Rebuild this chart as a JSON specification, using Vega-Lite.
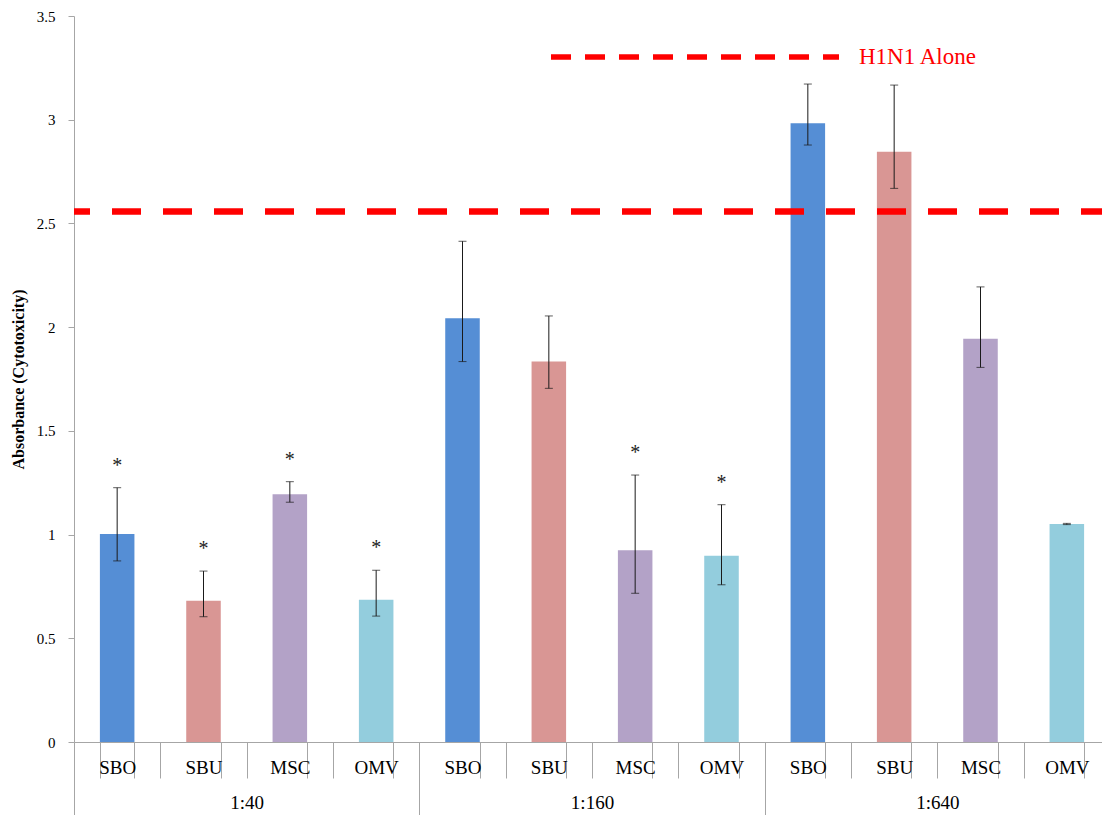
{
  "$schema": "https://vega.github.io/schema/vega-lite/v6.json",
  "width": 1036,
  "height": 726,
  "autosize": "none",
  "padding": {"left": 74, "top": 16, "right": -8, "bottom": 73},
  "background": "white",
  "config": {
    "view": {"stroke": null},
    "font": "Liberation Serif",
    "axis": {"labelFont": "Liberation Serif", "titleFont": "Liberation Serif", "labelColor": "black", "titleColor": "black"},
    "legend": {"labelFont": "Liberation Serif"},
    "text": {"font": "Liberation Serif"}
  },
  "datasets": {
    "bars": [
      {"key": "1:40|SBO", "dilution": "1:40", "sample": "SBO", "v": 1.003, "lo": 0.873, "hi": 1.226, "star": "*"},
      {"key": "1:40|SBU", "dilution": "1:40", "sample": "SBU", "v": 0.681, "lo": 0.604, "hi": 0.824, "star": "*"},
      {"key": "1:40|MSC", "dilution": "1:40", "sample": "MSC", "v": 1.194, "lo": 1.156, "hi": 1.255, "star": "*"},
      {"key": "1:40|OMV", "dilution": "1:40", "sample": "OMV", "v": 0.686, "lo": 0.607, "hi": 0.828, "star": "*"},
      {"key": "1:160|SBO", "dilution": "1:160", "sample": "SBO", "v": 2.043, "lo": 1.834, "hi": 2.414, "star": ""},
      {"key": "1:160|SBU", "dilution": "1:160", "sample": "SBU", "v": 1.834, "lo": 1.705, "hi": 2.054, "star": ""},
      {"key": "1:160|MSC", "dilution": "1:160", "sample": "MSC", "v": 0.924, "lo": 0.717, "hi": 1.287, "star": "*"},
      {"key": "1:160|OMV", "dilution": "1:160", "sample": "OMV", "v": 0.898, "lo": 0.758, "hi": 1.144, "star": "*"},
      {"key": "1:640|SBO", "dilution": "1:640", "sample": "SBO", "v": 2.983, "lo": 2.878, "hi": 3.172, "star": ""},
      {"key": "1:640|SBU", "dilution": "1:640", "sample": "SBU", "v": 2.846, "lo": 2.669, "hi": 3.167, "star": ""},
      {"key": "1:640|MSC", "dilution": "1:640", "sample": "MSC", "v": 1.944, "lo": 1.806, "hi": 2.194, "star": ""},
      {"key": "1:640|OMV", "dilution": "1:640", "sample": "OMV", "v": 1.051, "lo": 1.048, "hi": 1.054, "star": ""}
    ],
    "ref": [{"y": 2.557, "series": "H1N1 Alone"}],
    "groups": [{"dilution": "1:40"}, {"dilution": "1:160"}, {"dilution": "1:640"}]
  },
  "layer": [
    {
      "data": {"name": "bars"},
      "encoding": {
        "x": {
          "field": "key", "type": "nominal", "sort": null,
          "scale": {"type": "band", "paddingInner": 0.6, "paddingOuter": 0.3},
          "axis": {
            "orient": "bottom", "title": null,
            "labelExpr": "split(datum.value, '|')[1]",
            "labelAngle": 0, "labelFontSize": 19, "labelPadding": -20,
            "ticks": true, "tickBand": "extent", "tickSize": 36, "tickColor": "#A6A6A6", "tickWidth": 1,
            "domainColor": "#A6A6A6"
          }
        }
      },
      "layer": [
        {
          "mark": {"type": "bar"},
          "encoding": {
            "y": {
              "field": "v", "type": "quantitative",
              "scale": {"domain": [0, 3.5], "nice": false},
              "axis": {
                "title": "Absorbance (Cytotoxicity)", "titleFontSize": 16, "titleFontWeight": "bold",
                "titlePadding": 10, "format": "~g",
                "values": [0, 0.5, 1, 1.5, 2, 2.5, 3, 3.5],
                "labelFontSize": 15, "labelPadding": 13, "grid": false,
                "tickSize": 6, "tickColor": "#A6A6A6", "domainColor": "#A6A6A6"
              }
            },
            "color": {
              "field": "sample", "type": "nominal", "legend": null,
              "scale": {"domain": ["SBO", "SBU", "MSC", "OMV"], "range": ["#558ED5", "#D99694", "#B3A2C7", "#93CDDD"]}
            }
          }
        },
        {
          "mark": {"type": "rule", "color": "#1a1a1a", "strokeWidth": 1},
          "encoding": {"y": {"field": "lo", "type": "quantitative"}, "y2": {"field": "hi"}}
        },
        {
          "mark": {"type": "tick", "color": "#1a1a1a", "size": 8, "thickness": 1},
          "encoding": {"y": {"field": "hi", "type": "quantitative"}}
        },
        {
          "mark": {"type": "tick", "color": "#1a1a1a", "size": 8, "thickness": 1},
          "encoding": {"y": {"field": "lo", "type": "quantitative"}}
        },
        {
          "mark": {"type": "text", "baseline": "alphabetic", "dy": -16, "fontSize": 20, "color": "#222222"},
          "encoding": {"y": {"field": "hi", "type": "quantitative"}, "text": {"field": "star"}}
        }
      ]
    },
    {
      "data": {"name": "ref"},
      "mark": {"type": "rule", "strokeWidth": 6.5, "strokeDash": [29, 22]},
      "encoding": {
        "y": {"field": "y", "type": "quantitative"},
        "color": {
          "field": "series", "type": "nominal",
          "scale": {"domain": ["H1N1 Alone"], "range": ["#FF0000"]},
          "legend": {
            "title": null, "orient": "none", "legendX": 474, "legendY": -106,
            "symbolType": "stroke", "symbolSize": 82944, "symbolStrokeWidth": 5.5,
            "symbolDash": [20, 14], "symbolStrokeColor": "#FF0000",
            "labelFontSize": 23, "labelColor": "#FF0000", "labelOffset": 17, "padding": 0
          }
        }
      }
    },
    {
      "data": {"name": "bars"},
      "mark": {"type": "tick", "opacity": 0},
      "encoding": {
        "x": {
          "field": "key", "type": "nominal", "sort": null,
          "scale": {"type": "band", "paddingInner": 0, "paddingOuter": 0},
          "axis": {
            "orient": "bottom", "title": null, "labels": false, "domain": false,
            "ticks": true, "tickBand": "extent", "tickSize": 36, "tickColor": "#A6A6A6"
          }
        }
      }
    },
    {
      "data": {"name": "groups"},
      "mark": {"type": "tick", "opacity": 0},
      "encoding": {
        "x": {
          "field": "dilution", "type": "nominal", "sort": null,
          "scale": {"type": "band", "domain": ["1:40", "1:160", "1:640"], "paddingInner": 0, "paddingOuter": 0},
          "axis": {
            "orient": "bottom", "title": null, "labelAngle": 0, "labelFontSize": 19,
            "labelPadding": -22, "tickBand": "extent", "tickSize": 73,
            "tickColor": "#A6A6A6", "domain": false
          }
        }
      }
    }
  ],
  "resolve": {"scale": {"x": "independent", "color": "independent"}, "axis": {"x": "independent"}}
}
